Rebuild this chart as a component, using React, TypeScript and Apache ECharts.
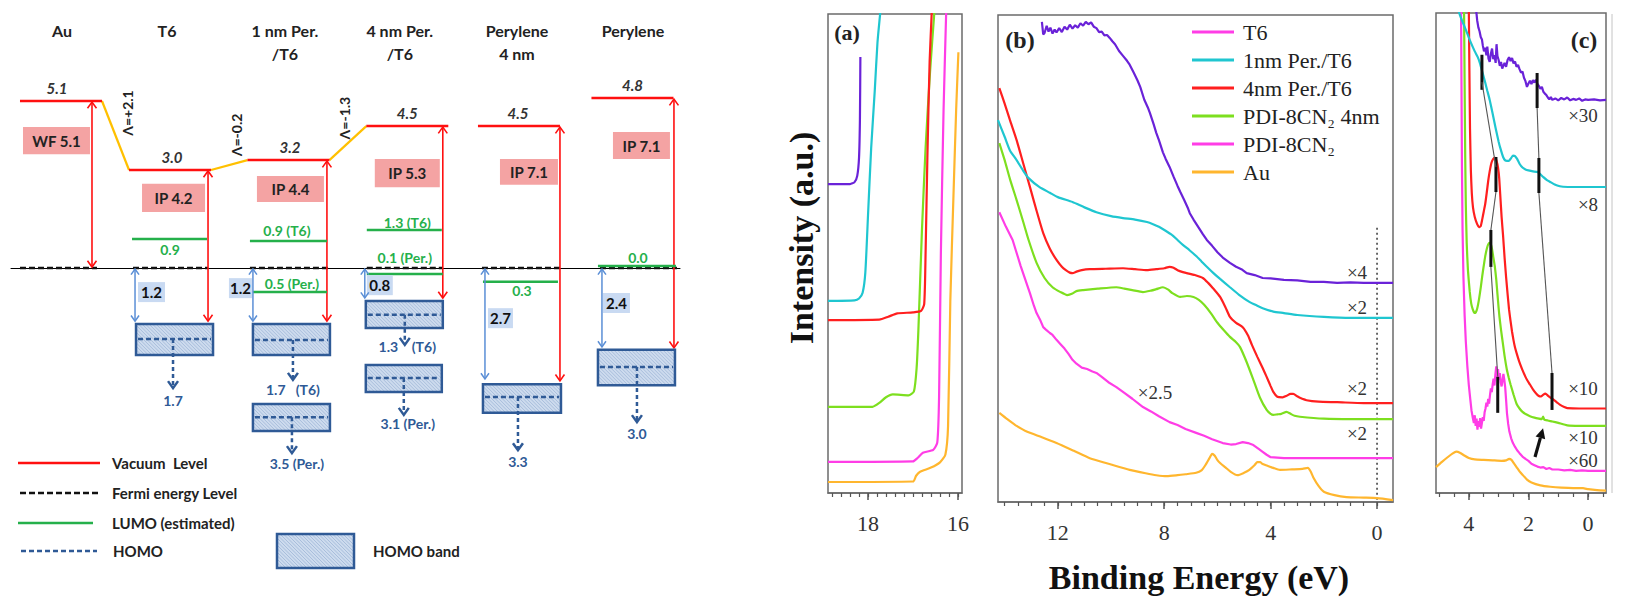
import React, { useEffect, useRef } from 'react';
import * as echarts from 'echarts';

const SANS = 'Lato, "Open Sans", "Noto Sans", sans-serif';
const SERIF = '"Liberation Serif", "DejaVu Serif", serif';

// ---------------- Energy level diagram (left) ----------------
const columns = ['Au', 'T6', '1 nm Per.\n/T6', '4 nm Per.\n/T6', 'Perylene\n4 nm', 'Perylene'];
const columnPos = [0, 0.954, 1.99, 3.03, 4.007, 5.0];
const vacuumLevel = [5.1, 3.0, 3.2, 4.5, 4.5, 4.8];
const vacuumDrawn = [5.06, 2.97, 3.27, 4.3, 4.3, 5.15];
const ipKind = ['WF', 'IP', 'IP', 'IP', 'IP', 'IP'];
const ipValue = [5.1, 4.2, 4.4, 5.3, 7.1, 7.1];
const ipBoxTop = [4.27, 2.55, 2.79, 3.3, 3.3, 4.12];
const ipBoxBottom = [3.45, 1.7, 2.0, 2.45, 2.52, 3.3];
const ipArrowEnd = [0, -1.64, -1.64, -0.94, -3.45, -2.45];
const dipole = [2.1, -0.2, -1.3];
const lumoColumn = [1, 2, 2, 3, 3, 4, 5];
const lumoDrawn = [0.88, 0.82, -0.73, 1.15, -0.18, -0.42, 0.06];
const lumoLabel = ['0.9', '0.9 (T6)', '0.5 (Per.)', '1.3 (T6)', '0.1 (Per.)', '0.3', '0.0'];
const gapColumn = [1, 2, 3, 4, 5];
const gapValue = [1.2, 1.2, 0.8, 2.7, 2.4];
const gapArrowEnd = [-1.64, -1.64, -0.94, -3.39, -2.42];
const gapLabelAt = [-0.73, -0.61, -0.52, -1.52, -1.06];
const bandColumn = [1, 2, 2, 3, 3, 4, 5];
const bandTop = [-1.7, -1.7, -4.12, -1.0, -2.94, -3.52, -2.48];
const bandBottom = [-2.64, -2.64, -4.94, -1.82, -3.76, -4.39, -3.55];
const bandHomo = [-2.15, -2.18, -4.52, -1.42, -3.33, -3.91, -3.0];
const bandArrowEnd = [-3.64, -3.39, -5.61, -2.33, -4.45, -5.52, -4.67];
const bandLabel = ['1.7', '1.7   (T6)', '3.5 (Per.)', '1.3    (T6)', '3.1 (Per.)', '3.3', '3.0'];

// layout offsets (pixels, relative to column centre)
const titleDx = [1, -3, -3.5, -7.5, -2, 0.5];
const vacLabelDx = [-4, 2, 1.5, 0, -1, 0];
const ipArrowDx = [31, 38, 38.5, 35.5, 41, 41.5];
const ipBoxDx = [[-38, 29], [-28, 35], [-31.5, 35.5], [-32.5, 32.5], [-19, 39], [-19.5, 37.5]];
const fermiDx = [[-41, 36], [-37, 38], [-38.5, 39.5], [-40.5, 35.5], [-37, 41], [-32.5, 44.5]];
const dipoleDx = [[26, 12], [25, -35], [15, -42]];
const lumoDx = [[-38, 37], [-38.5, 38.5], [-35.5, 38.5], [-40.5, 34.5], [-40.5, 35.5], [-36, 39], [-34.5, 43.5]];
const lumoLabelOff = [[0, 11], [-1.5, -10], [3.5, -9], [0, -8], [-2.5, -16], [3, 9], [5.5, -9]];
const gapDx = [-35, -35.5, -42.5, -34, -30.5];
const gapBoxDx = [[-32, -5], [-59.5, -36.5], [-40.5, -14.5], [-31, -6], [-29.5, -2.5]];
const bandDx = [[-34, 43], [-35.5, 41.5], [-35.5, 41.5], [-41.5, 35.5], [-41.5, 34.5], [-36, 42], [-34.5, 42.5]];
const bandArrowDx = [3, 4.5, 3.5, -2.5, -3.5, -1, 4.5];
const bandLabelDx = [3, 4.5, 8.5, 0, 0.5, -1, 4.5];
const bandLabelDy = [12, 10, 10, 2, 9, 11, 11];

// ---------------- UPS spectra (right) ----------------
const NAMES = ['T6', '1nm Per./T6', '4nm Per./T6', 'PDI-8CN₂ 4nm', 'PDI-8CN₂', 'Au'];

const aPurple = [[18.89, 64.5], [18.4, 64.5], [18.3, 64.9], [18.24, 66.2], [18.2, 70], [18.18, 78], [18.17, 91.0]];
const aCyan = [[18.89, 40.1], [18.3, 40.2], [18.2, 40.6], [18.12, 41.8], [18.06, 46], [18.0, 58], [17.93, 72], [17.85, 84], [17.79, 94], [17.72, 101]];
const aRed = [[18.89, 36.1], [17.75, 36.2], [17.55, 36.8], [17.35, 37.5], [17.0, 37.7], [16.82, 38.0], [16.75, 39.5], [16.72, 50], [16.68, 70], [16.63, 90], [16.58, 101]];
const aGreen = [[18.89, 18.0], [17.9, 18.0], [17.75, 18.8], [17.6, 20.0], [17.45, 20.6], [17.1, 20.4], [16.98, 21.2], [16.92, 26], [16.88, 34], [16.8, 55], [16.72, 72], [16.62, 88], [16.52, 101]];
const aMagenta = [[18.89, 6.5], [17.0, 6.6], [16.9, 7.3], [16.78, 8.4], [16.55, 9.0], [16.46, 10.5], [16.42, 20], [16.38, 50], [16.32, 80], [16.26, 101]];
const aOrange = [[18.89, 2.3], [17.0, 2.4], [16.93, 3.6], [16.85, 4.4], [16.6, 5.3], [16.4, 6.4], [16.28, 8.0], [16.22, 14], [16.17, 40], [16.1, 62], [16.04, 80], [15.99, 92]];

const bPurple = [[12.6, 98.6], [12.55, 96.0], [12.5, 96.3], [12.42, 97.8], [12.35, 96.6], [12.28, 97.4], [12.2, 96.2], [12.12, 97.0], [12.05, 96.4], [11.95, 97.3], [11.85, 96.5], [11.75, 97.6], [11.65, 97.0], [11.55, 98.0], [11.45, 97.2], [11.35, 97.9], [11.25, 97.4], [11.15, 98.3], [11.05, 97.8], [10.95, 98.6], [10.85, 98.1], [10.75, 98.5], [10.65, 97.6], [10.55, 97.3], [10.45, 96.5], [10.35, 96.6], [10.25, 95.8], [10.15, 95.9], [10.05, 95.3], [9.95, 94.6], [9.85, 94.0], [9.7, 92.6], [9.55, 91.6], [9.4, 90.6], [9.3, 89.8], [9.15, 88.2], [9.0, 86.5], [8.9, 85.2], [8.75, 82.6], [8.6, 80.8], [8.54, 79.9], [8.4, 77.6], [8.3, 75.8], [8.2, 74.3], [8.05, 71.8], [7.95, 70.5], [7.8, 68.8], [7.65, 66.8], [7.5, 64.9], [7.4, 63.7], [7.25, 62.0], [7.1, 60.2], [7.04, 59.3], [6.9, 58.0], [6.7, 56.3], [6.55, 55.0], [6.4, 53.8], [6.2, 52.6], [6.0, 51.3], [5.8, 50.2], [5.53, 49.1], [5.3, 48.3], [5.1, 47.8], [4.9, 47.0], [4.6, 46.6], [4.3, 46.0], [4.0, 45.9], [3.5, 45.6], [3.0, 45.5], [2.5, 45.2], [2.0, 45.2], [1.5, 45.0], [1.0, 45.1], [0.5, 45.0], [0, 45.0], [-0.6, 45.0]];
const bCyan = [[14.25, 78.4], [14.0, 75.0], [13.8, 72.2], [13.55, 70.2], [13.3, 68.0], [13.1, 66.5], [12.7, 64.7], [12.3, 63.5], [12.0, 62.6], [11.45, 61.6], [11.0, 60.5], [10.55, 59.5], [10.0, 58.7], [9.55, 58.3], [9.1, 58.0], [8.65, 57.5], [8.4, 57.0], [8.2, 56.5], [7.95, 55.7], [7.7, 54.8], [7.5, 53.8], [7.3, 52.8], [7.05, 51.7], [6.8, 50.5], [6.6, 49.4], [6.4, 48.3], [6.15, 47.0], [5.9, 45.8], [5.53, 44.1], [5.2, 42.6], [4.8, 41.1], [4.5, 40.3], [4.3, 39.8], [3.9, 39.1], [3.5, 38.8], [3.0, 38.4], [2.0, 38.0], [1.0, 37.8], [0, 37.8], [-0.6, 37.8]];
const bRed = [[14.2, 85.0], [14.0, 81.8], [13.8, 78.4], [13.55, 74.3], [13.3, 69.5], [13.05, 64.7], [12.8, 59.8], [12.55, 55.2], [12.3, 52.0], [12.05, 49.7], [11.85, 48.3], [11.7, 47.6], [11.55, 47.1], [11.45, 47.0], [11.3, 47.3], [11.1, 47.6], [10.8, 47.8], [10.2, 47.9], [9.55, 48.0], [9.1, 47.8], [8.65, 47.6], [8.3, 47.8], [8.0, 48.0], [7.8, 48.3], [7.65, 48.1], [7.5, 47.6], [7.3, 47.2], [7.15, 47.0], [6.85, 46.6], [6.55, 46.0], [6.35, 45.0], [6.2, 44.1], [5.9, 42.1], [5.7, 40.0], [5.53, 38.0], [5.3, 36.8], [5.05, 35.9], [4.85, 34.2], [4.7, 32.2], [4.5, 29.8], [4.3, 27.5], [4.15, 25.7], [4.0, 23.8], [3.9, 22.6], [3.75, 21.6], [3.55, 21.5], [3.4, 21.8], [3.25, 22.2], [3.15, 22.2], [3.0, 21.7], [2.9, 21.4], [2.65, 20.9], [2.2, 20.6], [1.5, 20.5], [0.5, 20.3], [0, 20.3], [-0.6, 20.3]];
const bGreen = [[14.2, 73.7], [14.0, 70.2], [13.8, 66.3], [13.55, 62.0], [13.3, 57.5], [13.1, 53.8], [12.8, 49.1], [12.5, 46.0], [12.2, 44.1], [11.9, 43.1], [11.65, 42.5], [11.45, 42.8], [11.3, 43.3], [11.05, 43.5], [10.5, 43.8], [9.8, 44.1], [9.5, 43.8], [9.2, 43.5], [8.8, 43.1], [8.5, 43.4], [8.3, 43.7], [8.05, 44.1], [7.85, 43.6], [7.7, 42.9], [7.4, 42.1], [7.15, 42.3], [6.9, 42.1], [6.7, 41.5], [6.5, 40.5], [6.25, 38.8], [6.0, 36.8], [5.75, 35.2], [5.53, 33.9], [5.3, 32.8], [5.15, 31.8], [4.9, 28.7], [4.65, 25.1], [4.4, 21.4], [4.15, 18.9], [4.0, 18.1], [3.9, 17.9], [3.75, 18.0], [3.6, 18.1], [3.4, 18.5], [3.25, 18.1], [3.1, 17.7], [2.9, 17.5], [2.0, 17.1], [1.0, 17.0], [0, 17.0], [-0.6, 17.0]];
const bMagenta = [[14.2, 59.5], [13.95, 56.5], [13.7, 53.8], [13.4, 48.5], [13.05, 42.9], [12.9, 40.3], [12.8, 38.8], [12.65, 37.2], [12.55, 35.9], [12.45, 35.4], [12.3, 34.7], [12.2, 34.3], [12.05, 33.3], [11.9, 32.4], [11.75, 31.5], [11.6, 30.4], [11.45, 29.2], [11.3, 28.4], [11.1, 27.6], [10.9, 27.3], [10.7, 26.8], [10.55, 26.5], [10.35, 25.7], [10.1, 24.6], [9.8, 23.6], [9.5, 22.4], [9.2, 21.2], [8.8, 19.5], [8.5, 18.6], [8.2, 17.6], [7.8, 16.4], [7.5, 15.8], [7.2, 15.0], [6.8, 14.2], [6.5, 13.6], [6.2, 12.9], [5.8, 12.1], [5.5, 11.8], [5.3, 11.9], [5.05, 12.3], [4.85, 12.1], [4.65, 11.7], [4.45, 10.9], [4.3, 10.3], [4.15, 9.7], [4.0, 9.2], [3.5, 9.0], [2.0, 9.0], [0, 9.0], [-0.6, 9.0]];
const bOrange = [[14.2, 18.3], [13.9, 17.0], [13.6, 15.8], [13.15, 14.4], [12.6, 13.3], [12.05, 12.1], [11.4, 10.5], [10.8, 9.0], [10.0, 7.7], [9.3, 6.6], [8.7, 5.9], [8.3, 5.5], [7.9, 5.3], [7.5, 5.5], [7.2, 5.7], [6.8, 6.0], [6.6, 6.5], [6.45, 7.6], [6.3, 9.0], [6.2, 9.9], [6.1, 9.5], [6.0, 8.6], [5.9, 8.0], [5.7, 7.1], [5.5, 6.2], [5.25, 5.5], [5.0, 6.0], [4.8, 6.6], [4.6, 7.6], [4.5, 8.2], [4.4, 8.2], [4.3, 7.8], [4.1, 7.4], [3.9, 7.0], [3.65, 6.6], [3.2, 6.7], [2.8, 6.8], [2.6, 7.0], [2.5, 6.3], [2.4, 5.1], [2.2, 3.3], [2.0, 2.1], [1.6, 1.4], [1.15, 1.0], [0.5, 0.9], [0, 0.8], [-0.6, 0.4]];
const bFermiMarker = [[0, 56.3], [0, 0]];

const cPurple = [[3.76, 101], [3.72, 98.5], [3.68, 97.0], [3.64, 96.2], [3.6, 95.0], [3.56, 94.5], [3.53, 93.2], [3.49, 92.0], [3.45, 92.8], [3.41, 91.2], [3.38, 93.0], [3.34, 90.5], [3.3, 89.8], [3.26, 91.5], [3.22, 92.6], [3.18, 90.4], [3.14, 91.2], [3.1, 89.6], [3.07, 93.5], [3.04, 91.0], [3.0, 90.2], [2.96, 89.0], [2.92, 89.8], [2.88, 88.4], [2.85, 88.9], [2.8, 89.6], [2.75, 88.8], [2.7, 90.2], [2.65, 90.8], [2.6, 90.0], [2.55, 90.6], [2.5, 89.5], [2.45, 89.9], [2.4, 88.8], [2.35, 89.2], [2.3, 88.3], [2.25, 87.6], [2.2, 87.8], [2.15, 86.5], [2.1, 85.8], [2.05, 84.6], [2.0, 85.3], [1.95, 85.9], [1.9, 85.2], [1.85, 86.0], [1.8, 85.5], [1.75, 86.1], [1.7, 85.2], [1.65, 84.8], [1.6, 84.2], [1.55, 84.6], [1.5, 83.6], [1.45, 83.2], [1.4, 82.9], [1.35, 82.4], [1.3, 82.0], [1.25, 82.5], [1.2, 81.9], [1.1, 82.2], [1.0, 81.8], [0.9, 82.3], [0.8, 82.0], [0.7, 82.4], [0.6, 81.8], [0.5, 82.1], [0.4, 81.9], [0.3, 82.2], [0.2, 81.7], [0.1, 82.0], [0, 81.9], [-0.2, 82.0], [-0.4, 81.8], [-0.6, 81.9]];
const cCyan = [[4.36, 101], [4.3, 99.6], [4.2, 98.0], [4.1, 96.5], [3.97, 94.4], [3.8, 92.0], [3.7, 90.8], [3.63, 89.6], [3.55, 87.8], [3.45, 85.5], [3.38, 83.8], [3.3, 81.9], [3.2, 79.0], [3.1, 76.0], [3.0, 73.2], [2.95, 72.0], [2.85, 70.0], [2.78, 69.3], [2.72, 69.2], [2.66, 69.2], [2.6, 69.6], [2.52, 70.3], [2.45, 70.2], [2.38, 69.6], [2.3, 68.6], [2.2, 67.8], [2.1, 67.4], [2.0, 67.2], [1.85, 67.0], [1.7, 66.9], [1.6, 66.4], [1.5, 65.8], [1.38, 65.2], [1.27, 64.8], [1.1, 64.2], [0.95, 63.9], [0.84, 63.8], [0.5, 63.75], [0, 63.75], [-0.6, 63.75]];
const cRed = [[4.0, 101], [3.98, 88], [3.96, 76], [3.93, 67], [3.9, 62.5], [3.86, 59.5], [3.8, 57.5], [3.72, 56.0], [3.66, 55.4], [3.6, 55.6], [3.55, 57.0], [3.5, 58.6], [3.45, 60.2], [3.4, 62.5], [3.35, 65.0], [3.3, 67.0], [3.24, 68.8], [3.18, 69.6], [3.12, 69.8], [3.07, 69.2], [3.02, 67.8], [2.98, 65.5], [2.94, 61.5], [2.9, 57.5], [2.85, 53.5], [2.8, 49.0], [2.75, 45.0], [2.7, 41.5], [2.65, 38.2], [2.6, 35.8], [2.55, 33.6], [2.5, 31.8], [2.45, 30.3], [2.4, 29.2], [2.3, 27.2], [2.2, 25.6], [2.1, 24.2], [2.05, 23.6], [1.95, 22.6], [1.85, 21.6], [1.75, 20.8], [1.65, 20.2], [1.58, 20.1], [1.5, 20.5], [1.43, 20.7], [1.35, 20.3], [1.25, 19.8], [1.17, 19.5], [1.05, 18.9], [0.95, 18.4], [0.8, 17.9], [0.7, 17.7], [0.3, 17.6], [0, 17.6], [-0.6, 17.6]];
const cGreen = [[4.16, 101], [4.14, 85], [4.12, 70], [4.1, 60], [4.07, 52], [4.03, 46.5], [3.97, 42.0], [3.92, 39.5], [3.87, 38.3], [3.82, 37.6], [3.78, 37.5], [3.72, 38.4], [3.66, 40.3], [3.6, 42.8], [3.55, 45.2], [3.5, 47.3], [3.45, 49.3], [3.4, 50.8], [3.35, 51.8], [3.3, 52.1], [3.26, 51.8], [3.22, 50.8], [3.18, 49.2], [3.13, 47.3], [3.08, 44.5], [3.04, 41.5], [3.0, 38.5], [2.97, 36.6], [2.92, 34.0], [2.85, 30.8], [2.8, 28.5], [2.73, 25.9], [2.66, 24.0], [2.6, 22.6], [2.5, 20.5], [2.4, 18.6], [2.3, 17.6], [2.2, 16.9], [2.08, 16.4], [1.95, 16.0], [1.8, 15.7], [1.65, 15.5], [1.55, 15.4], [1.51, 15.9], [1.47, 15.3], [1.35, 15.1], [1.2, 14.9], [1.0, 14.6], [0.7, 14.1], [0.3, 14.0], [0, 14.0], [-0.6, 14.0]];
const cMagenta = [[4.26, 101], [4.245, 85], [4.23, 68], [4.21, 55], [4.18, 45], [4.14, 37], [4.1, 31.5], [4.05, 26.5], [4.0, 22.5], [3.95, 19.5], [3.91, 17.2], [3.87, 15.8], [3.83, 14.6], [3.8, 16.2], [3.77, 14.0], [3.74, 15.5], [3.71, 13.2], [3.68, 15.0], [3.65, 13.8], [3.62, 15.6], [3.59, 13.4], [3.56, 14.6], [3.53, 15.8], [3.5, 15.0], [3.47, 16.8], [3.44, 17.6], [3.41, 18.8], [3.38, 18.0], [3.35, 19.6], [3.32, 18.6], [3.29, 20.4], [3.26, 21.8], [3.23, 21.0], [3.2, 22.6], [3.17, 23.8], [3.14, 22.4], [3.11, 24.6], [3.08, 26.4], [3.05, 24.2], [3.02, 25.8], [2.99, 23.6], [2.96, 25.0], [2.93, 23.0], [2.9, 22.2], [2.87, 23.4], [2.84, 24.8], [2.81, 23.6], [2.78, 22.0], [2.75, 19.4], [2.72, 16.6], [2.68, 14.4], [2.64, 12.8], [2.58, 11.4], [2.52, 10.4], [2.45, 9.6], [2.38, 8.9], [2.3, 8.3], [2.2, 7.6], [2.1, 7.1], [2.0, 6.7], [1.9, 6.1], [1.8, 5.8], [1.7, 5.5], [1.6, 5.3], [1.5, 5.4], [1.4, 5.0], [1.3, 5.2], [1.2, 4.9], [1.0, 4.9], [0.8, 4.7], [0.6, 4.8], [0.4, 4.6], [0.2, 4.7], [0, 4.6], [-0.3, 4.6], [-0.6, 4.6]];
const cOrange = [[5.1, 5.4], [4.9, 6.5], [4.7, 7.5], [4.55, 8.2], [4.42, 8.6], [4.3, 8.4], [4.15, 7.8], [4.0, 7.3], [3.8, 7.0], [3.5, 6.9], [3.2, 6.8], [2.9, 6.7], [2.75, 6.8], [2.65, 7.1], [2.57, 6.9], [2.48, 6.1], [2.4, 5.4], [2.3, 4.5], [2.2, 3.8], [2.05, 2.8], [1.9, 2.2], [1.6, 1.6], [1.27, 1.3], [0.9, 1.1], [0.5, 1.0], [0.17, 1.0], [0, 0.8], [-0.3, 0.6], [-0.6, 0.5]];

// peak-shift markers in panel (c)
const markBarE = [3.56, 3.09, 3.26, 3.03, 1.71, 1.65, 1.21];
const markBarHi = [91.3, 70.0, 54.8, 24.2, 87.5, 69.8, 25.0];
const markBarLo = [84.0, 62.7, 47.1, 16.7, 80.2, 62.5, 17.3];
const guideFrom = [[3.56, 85.6], [3.09, 62.7], [3.26, 47.1], [1.71, 80.2], [1.65, 62.5]];
const guideTo = [[3.09, 67.9], [3.26, 54.8], [3.03, 24.2], [1.65, 69.8], [1.21, 25.0]];
const arrowFrom = [1.78, 7.5];
const arrowTo = [1.51, 13.5];

// ticks
const aMajor = [16, 18];
const bMajor = [0, 4, 8, 12];
const cMajor = [0, 2, 4];
const aMinor = [16.0, 16.2, 16.4, 16.6, 16.8, 17.0, 17.2, 17.4, 17.6, 17.8, 18.0, 18.2, 18.4, 18.6, 18.8];
const bMinor = [0, 0.5, 1, 1.5, 2, 2.5, 3, 3.5, 4, 4.5, 5, 5.5, 6, 6.5, 7, 7.5, 8, 8.5, 9, 9.5, 10, 10.5, 11, 11.5, 12, 12.5, 13, 13.5, 14];
const cMinor = [-0.5, 0, 0.5, 1, 1.5, 2, 2.5, 3, 3.5, 4, 4.5, 5];

// ---------------- styles ----------------
const RED = '#ff1010';
const GOLD = '#ffc000';
const GREEN = '#25b04b';
const NAVY = '#2f5a96';
const LBLUE = '#5b8fd6';
const BAND_FILL = '#cddbee';
const HATCH = '#8fa9cf';
const GAP_FILL = '#c9daf2';
const IP_FILL = '#f4a3a3';
const FRAME = '#6b6b6b';
const C_PURPLE = '#6a22d8';
const C_CYAN = '#1fc6d0';
const C_RED = '#ff1f1f';
const C_GREEN = '#7ddf1f';
const C_MAGENTA = '#ff3de6';
const C_ORANGE = '#ffb62e';

const chev = (x: number, y: number, dir: string, s: number, color: string, lw: number) => ({
  type: 'polyline',
  shape: {
    points: dir === 'down'
      ? [[x - s, y - s * 1.4], [x, y], [x + s, y - s * 1.4]]
      : [[x - s, y + s * 1.4], [x, y], [x + s, y + s * 1.4]],
  },
  style: { stroke: color, lineWidth: lw, fill: null },
});

const txt = (text: string, x: number, y: number, o: any = {}) => ({
  type: 'text',
  style: {
    text, x, y, align: 'center', textAlign: 'center', verticalAlign: 'middle', textVerticalAlign: 'middle',
    fontFamily: SANS, fontWeight: 'bold', fontSize: 14, fill: '#222', ...o,
  },
});

const line = (x1: number, y1: number, x2: number, y2: number, stroke: string, lineWidth: number, lineDash?: number[]) => ({
  type: 'line', shape: { x1, y1, x2, y2 }, style: { stroke, lineWidth, lineDash },
});

// diagonal hatch lines (x - y = c) confined to a rectangle
const hatch = (X0: number, Y0: number, X1: number, Y1: number) => {
  const out: any[] = [];
  for (let c = X0 - Y1 + 2; c < X1 - Y0; c += 3.5) {
    const ya = Math.max(Y0, X0 - c);
    const yb = Math.min(Y1, X1 - c);
    if (yb > ya) out.push(line(ya + c, ya, yb + c, yb, HATCH, 0.6));
  }
  return out;
};

function buildOption(): any {
  const leftBase = { type: 'custom', coordinateSystem: 'cartesian2d', xAxisIndex: 0, yAxisIndex: 0, clip: false, silent: true, encode: { x: 0, y: 1 } };

  const vacuumSeries = {
    ...leftBase, name: 'vacuum', z: 5,
    data: columns.map((_, i) => [columnPos[i], vacuumDrawn[i], ipArrowEnd[i], ipBoxTop[i], ipBoxBottom[i], i]),
    renderItem: (p: any, api: any) => {
      const i = api.value(5);
      const [cx, vy] = api.coord([api.value(0), api.value(1)]);
      const yEnd = api.coord([api.value(0), api.value(2)])[1];
      const yTop = api.coord([api.value(0), api.value(3)])[1];
      const yBot = api.coord([api.value(0), api.value(4)])[1];
      const ax = cx + ipArrowDx[i];
      const [b0, b1] = ipBoxDx[i];
      return {
        type: 'group',
        children: [
          txt(columns[i], cx + titleDx[i], 18.5, { fontSize: 16, verticalAlign: 'top', textVerticalAlign: 'top', lineHeight: 23, fill: '#222' }),
          line(cx - 41, vy, cx + 41, vy, RED, 2.5),
          txt(vacuumLevel[i].toFixed(1), cx + vacLabelDx[i], vy - 13, { fontStyle: 'italic', fontSize: 15, fill: '#333' }),
          { type: 'rect', shape: { x: cx + b0, y: yTop, width: b1 - b0, height: yBot - yTop }, style: { fill: IP_FILL } },
          txt(ipKind[i] + ' ' + ipValue[i].toFixed(1), cx + (b0 + b1) / 2, (yTop + yBot) / 2, { fontSize: 15, fill: '#222' }),
          line(ax, vy + 1, ax, yEnd - 1, RED, 1.6),
          chev(ax, vy + 1, 'up', 4.5, RED, 1.6),
          chev(ax, yEnd - 1, 'down', 4.5, RED, 1.6),
        ],
      };
    },
  };

  const connectorSeries = {
    ...leftBase, name: 'dipole', z: 4,
    data: dipole.map((d, k) => [columnPos[k], vacuumDrawn[k], columnPos[k + 1], vacuumDrawn[k + 1], k, d]),
    renderItem: (p: any, api: any) => {
      const k = api.value(4);
      const d = api.value(5);
      const [x1, y1] = api.coord([api.value(0), api.value(1)]);
      const [x2, y2] = api.coord([api.value(2), api.value(3)]);
      const sx = x1 + 41;
      return {
        type: 'group',
        children: [
          line(sx, y1, x2 - 41, y2, GOLD, 2.2),
          {
            type: 'text', x: sx + dipoleDx[k][0], y: y1 + dipoleDx[k][1], rotation: Math.PI / 2,
            style: { text: 'Λ=' + (d > 0 ? '+' : '') + d.toFixed(1), x: 0, y: 0, align: 'center', textAlign: 'center', verticalAlign: 'middle', textVerticalAlign: 'middle', fontFamily: SANS, fontWeight: 'bold', fontSize: 14, fill: '#222' },
          },
        ],
      };
    },
  };

  const fermiSeries = {
    ...leftBase, name: 'fermi', z: 3,
    data: columns.map((_, i) => [columnPos[i], 0, i]),
    renderItem: (p: any, api: any) => {
      const i = api.value(2);
      const [cx, y] = api.coord([api.value(0), api.value(1)]);
      return line(cx + fermiDx[i][0], y, cx + fermiDx[i][1], y, '#111', 2.6, [6, 3]);
    },
  };

  const lumoSeries = {
    ...leftBase, name: 'lumo', z: 6,
    data: lumoColumn.map((c, k) => [columnPos[c], lumoDrawn[k], k]),
    renderItem: (p: any, api: any) => {
      const k = api.value(2);
      const [cx, y] = api.coord([api.value(0), api.value(1)]);
      return {
        type: 'group',
        children: [
          line(cx + lumoDx[k][0], y, cx + lumoDx[k][1], y, GREEN, 2.5),
          txt(lumoLabel[k], cx + lumoLabelOff[k][0], y + lumoLabelOff[k][1], { fill: GREEN, fontSize: 14 }),
        ],
      };
    },
  };

  const gapSeries = {
    ...leftBase, name: 'gap', z: 6,
    data: gapColumn.map((c, k) => [columnPos[c], 0, gapArrowEnd[k], gapLabelAt[k], k, gapValue[k]]),
    renderItem: (p: any, api: any) => {
      const k = api.value(4);
      const [cx, y0] = api.coord([api.value(0), api.value(1)]);
      const y1 = api.coord([api.value(0), api.value(2)])[1];
      const yl = api.coord([api.value(0), api.value(3)])[1];
      const x = cx + gapDx[k];
      const [g0, g1] = gapBoxDx[k];
      return {
        type: 'group',
        children: [
          { type: 'rect', shape: { x: cx + g0, y: yl - 10, width: g1 - g0, height: 20 }, style: { fill: GAP_FILL } },
          txt(api.value(5).toFixed(1), cx + (g0 + g1) / 2, yl, { fontSize: 15, fill: '#111' }),
          line(x, y0 + 1, x, y1 - 1, LBLUE, 1.5),
          chev(x, y0 + 1, 'up', 4, LBLUE, 1.5),
          chev(x, y1 - 1, 'down', 4, LBLUE, 1.5),
        ],
      };
    },
  };

  const bandSeries = {
    ...leftBase, name: 'band', z: 6,
    data: bandColumn.map((c, k) => [columnPos[c], bandTop[k], bandBottom[k], bandHomo[k], bandArrowEnd[k], k]),
    renderItem: (p: any, api: any) => {
      const k = api.value(5);
      const [cx, yT] = api.coord([api.value(0), api.value(1)]);
      const yB = api.coord([api.value(0), api.value(2)])[1];
      const yH = api.coord([api.value(0), api.value(3)])[1];
      const yA = api.coord([api.value(0), api.value(4)])[1];
      const [d0, d1] = bandDx[k];
      const ax = cx + bandArrowDx[k];
      return {
        type: 'group',
        children: [
          { type: 'rect', shape: { x: cx + d0, y: yT, width: d1 - d0, height: yB - yT }, style: { fill: BAND_FILL } },
          ...hatch(cx + d0, yT, cx + d1, yB),
          { type: 'rect', shape: { x: cx + d0, y: yT, width: d1 - d0, height: yB - yT }, style: { fill: null, stroke: NAVY, lineWidth: 2.5 } },
          line(cx + d0 + 2, yH, cx + d1 - 2, yH, NAVY, 2.5, [5, 3]),
          line(ax, yH, ax, yA - 1, NAVY, 2.5, [4, 3]),
          chev(ax, yA, 'down', 5, NAVY, 2.5),
          txt(bandLabel[k], cx + bandLabelDx[k], yA + bandLabelDy[k], { fill: NAVY, fontSize: 14 }),
        ],
      };
    },
  };

  const majorAxis = (gridIndex: number, min: number, max: number, ticks: number[]) => ({
    gridIndex, type: 'value', min, max, inverse: true, position: 'bottom',
    axisLine: { show: true, onZero: false, lineStyle: { color: FRAME, width: 1.5 } },
    axisTick: { show: true, customValues: ticks, length: 7, lineStyle: { color: '#555', width: 1.5 } },
    axisLabel: { show: true, customValues: ticks, margin: 19, fontSize: 22, fontFamily: SERIF, color: '#333' },
    splitLine: { show: false },
  });
  const minorAxis = (gridIndex: number, min: number, max: number, ticks: number[]) => ({
    gridIndex, type: 'value', min, max, inverse: true, position: 'bottom',
    axisLine: { show: false, onZero: false },
    axisTick: { show: true, customValues: ticks, length: 4, lineStyle: { color: '#555', width: 1.2 } },
    axisLabel: { show: false },
    splitLine: { show: false },
  });
  const yHidden = (gridIndex: number) => ({ gridIndex, type: 'value', min: 0, max: 100, show: false, splitLine: { show: false } });

  const spec = (name: string, color: string, data: number[][], xi: number, yi: number, smooth = 0.2) => ({
    type: 'line', name, data, xAxisIndex: xi, yAxisIndex: yi, symbol: 'none', smooth, silent: true,
    lineStyle: { color, width: 2.2 }, itemStyle: { color }, z: 3,
  });

  const panels: any[] = [];
  const sets = [
    { xi: 1, yi: 1, d: [aPurple, aCyan, aRed, aGreen, aMagenta, aOrange], smooth: 0.2 },
    { xi: 3, yi: 2, d: [bPurple, bCyan, bRed, bGreen, bMagenta, bOrange], smooth: 0.2 },
    { xi: 5, yi: 3, d: [cPurple, cCyan, cRed, cGreen, cMagenta, cOrange], smooth: 0.15 },
  ];
  const colors = [C_PURPLE, C_CYAN, C_RED, C_GREEN, C_MAGENTA, C_ORANGE];
  sets.forEach((s) => {
    [5, 4, 3, 2, 1, 0].forEach((j) => {
      panels.push(spec(NAMES[j], colors[j], s.d[j], s.xi, s.yi, (j === 0 || j === 4) && s.xi !== 1 ? 0 : s.smooth));
    });
  });

  const fermiMarker = {
    type: 'line', name: 'EF', data: bFermiMarker, xAxisIndex: 3, yAxisIndex: 2, symbol: 'none', silent: true,
    lineStyle: { color: '#444', width: 1.6, type: [2, 3] }, z: 2,
  };

  const markSeries = {
    type: 'custom', coordinateSystem: 'cartesian2d', xAxisIndex: 5, yAxisIndex: 3, clip: false, silent: true, z: 8,
    encode: { x: [0, 2], y: [1, 3] },
    data: [
      ...markBarE.map((e, k) => [e, markBarHi[k], e, markBarLo[k], 0]),
      ...guideFrom.map((f, k) => [f[0], f[1], guideTo[k][0], guideTo[k][1], 1]),
      [arrowFrom[0], arrowFrom[1], arrowTo[0], arrowTo[1], 2],
    ],
    renderItem: (p: any, api: any) => {
      const kind = api.value(4);
      const [x1, y1] = api.coord([api.value(0), api.value(1)]);
      const [x2, y2] = api.coord([api.value(2), api.value(3)]);
      if (kind === 0) return line(x1, y1, x2, y2, '#111', 3);
      if (kind === 1) return line(x1, y1, x2, y2, '#555', 1.1);
      const ang = Math.atan2(y2 - y1, x2 - x1);
      const hl = 10, hw = 5;
      const bx = x2 - hl * Math.cos(ang), by = y2 - hl * Math.sin(ang);
      const nx = -Math.sin(ang), ny = Math.cos(ang);
      return {
        type: 'group',
        children: [
          line(x1, y1, bx, by, '#111', 3.2),
          { type: 'polygon', shape: { points: [[x2, y2], [bx + nx * hw, by + ny * hw], [bx - nx * hw, by - ny * hw]] }, style: { fill: '#111' } },
        ],
      };
    },
  };

  const gtext = (text: string, x: number, y: number, o: any = {}, rotation = 0) => ({
    type: 'text', x, y, rotation,
    style: { text, align: 'center', textAlign: 'center', verticalAlign: 'middle', textVerticalAlign: 'middle', fontFamily: SERIF, fontSize: 19, fill: '#333', ...o },
  });
  const ltext = (text: string, x: number, y: number) => ({
    type: 'text', x, y,
    style: { text, align: 'left', textAlign: 'left', verticalAlign: 'middle', textVerticalAlign: 'middle', fontFamily: SANS, fontWeight: 'bold', fontSize: 15, fill: '#222' },
  });

  const graphic = [
    // left legend
    line(18, 463, 100, 463, RED, 2.5), ltext('Vacuum  Level', 112, 463),
    line(20, 493, 98, 493, '#111', 2.6, [6, 3]), ltext('Fermi energy Level', 112, 493),
    line(18, 523, 93, 523, GREEN, 2.5), ltext('LUMO (estimated)', 112, 523),
    line(21, 551, 97, 551, NAVY, 2.5, [5, 3]), ltext('HOMO', 113, 551),
    { type: 'rect', shape: { x: 277, y: 534, width: 77, height: 34 }, style: { fill: BAND_FILL } },
    ...hatch(277, 534, 354, 568),
    { type: 'rect', shape: { x: 277, y: 534, width: 77, height: 34 }, style: { fill: null, stroke: NAVY, lineWidth: 2.5 } },
    ltext('HOMO band', 373, 551),
    // right panels
    gtext('Intensity (a.u.)', 801, 238, { fontWeight: 'bold', fontSize: 34, fill: '#111' }, Math.PI / 2),
    gtext('Binding Energy (eV)', 1199, 577, { fontWeight: 'bold', fontSize: 34, fill: '#111' }),
    gtext('(a)', 847, 32, { fontWeight: 'bold', fontSize: 22, fill: '#222' }),
    gtext('(b)', 1020, 40, { fontWeight: 'bold', fontSize: 24, fill: '#222' }),
    gtext('(c)', 1584, 40, { fontWeight: 'bold', fontSize: 24, fill: '#222' }),
    gtext('×4', 1357, 272), gtext('×2', 1357, 307), gtext('×2', 1357, 388), gtext('×2', 1357, 433), gtext('×2.5', 1155, 392),
    gtext('×30', 1583, 115), gtext('×8', 1588, 204), gtext('×10', 1583, 388), gtext('×10', 1583, 437), gtext('×60', 1583, 460),
    line(1612, 14, 1612, 493, '#c4c4c4', 1),
  ];

  return {
    animation: false,
    backgroundColor: '#fff',
    grid: [
      { left: 11, top: 0, width: 669, height: 605 },
      { left: 828, top: 14, width: 134, height: 479, show: true, borderColor: FRAME, borderWidth: 1.5, backgroundColor: 'transparent' },
      { left: 998, top: 15, width: 395, height: 487, show: true, borderColor: FRAME, borderWidth: 1.5, backgroundColor: 'transparent' },
      { left: 1436, top: 13, width: 170, height: 480, show: true, borderColor: FRAME, borderWidth: 1.5, backgroundColor: 'transparent' },
    ],
    xAxis: [
      {
        gridIndex: 0, type: 'value', min: -0.4374, max: 5.416,
        axisLine: { show: true, onZero: true, lineStyle: { color: '#000', width: 1 } },
        axisTick: { show: false }, axisLabel: { show: false }, splitLine: { show: false },
      },
      majorAxis(1, 15.91, 18.89, aMajor), minorAxis(1, 15.91, 18.89, aMinor),
      majorAxis(2, -0.6, 14.25, bMajor), minorAxis(2, -0.6, 14.25, bMinor),
      majorAxis(3, -0.6, 5.1, cMajor), minorAxis(3, -0.6, 5.1, cMinor),
    ],
    yAxis: [
      {
        gridIndex: 0, type: 'value', min: -10.212, max: 8.1212, show: true,
        axisLine: { show: false }, axisTick: { show: false }, axisLabel: { show: false }, splitLine: { show: false },
      },
      yHidden(1), yHidden(2), yHidden(3),
    ],
    legend: {
      left: 1187, top: 16, orient: 'vertical', itemWidth: 42, itemHeight: 3, itemGap: 6,
      selectedMode: false, icon: 'rect',
      textStyle: { fontFamily: SERIF, fontSize: 22, color: '#222', padding: [0, 0, 0, 4] },
      data: [
        { name: NAMES[0], itemStyle: { color: C_MAGENTA }, lineStyle: { color: C_MAGENTA } },
        NAMES[1], NAMES[2], NAMES[3], NAMES[4], NAMES[5],
      ],
    },
    graphic: { elements: graphic },
    series: [fermiSeries, vacuumSeries, connectorSeries, lumoSeries, gapSeries, bandSeries, fermiMarker, ...panels, markSeries],
  };
}

export default function App() {
  const ref = useRef<HTMLDivElement>(null);
  useEffect(() => {
    document.body.style.margin = '0';
    const chart = echarts.init(ref.current as HTMLDivElement, null, { renderer: 'svg' });
    chart.setOption(buildOption());
    return () => chart.dispose();
  }, []);
  return <div ref={ref} style={{ width: 1627, height: 605, background: '#fff' }} />;
}
